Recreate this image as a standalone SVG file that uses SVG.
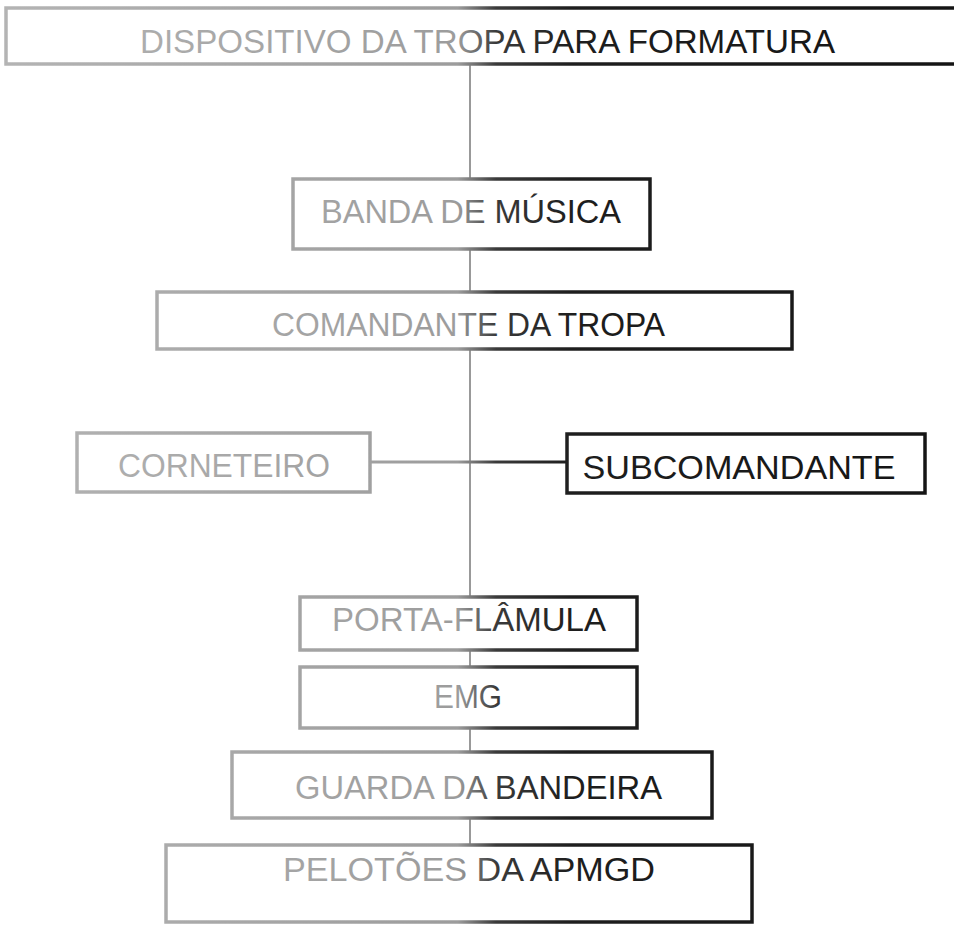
<svg xmlns="http://www.w3.org/2000/svg" width="954" height="925" viewBox="0 0 954 925">
<defs>
<linearGradient id="g" gradientUnits="userSpaceOnUse" x1="0" y1="0" x2="954" y2="0">
<stop offset="0" stop-color="#b4b4b4"/>
<stop offset="0.48" stop-color="#9c9c9c"/>
<stop offset="0.52" stop-color="#3a3a3a"/>
<stop offset="0.6" stop-color="#1e1e1e"/>
<stop offset="1" stop-color="#141414"/>
</linearGradient>
</defs>
<style>
.box{fill:#fff;stroke:url(#g);stroke-width:3.5}
.t{font-family:"Liberation Sans",Arial,sans-serif;font-size:34px;fill:url(#g);text-anchor:middle}
.c{stroke:#999;stroke-width:2;fill:none}
.h{stroke:url(#g);stroke-width:3;fill:none}
</style>
<g id="connectors">
<line class="c" x1="470" y1="64" x2="470" y2="178"/>
<line class="c" x1="470" y1="250" x2="470" y2="292"/>
<line class="c" x1="470" y1="349" x2="470" y2="597"/>
<line class="c" x1="470" y1="650" x2="470" y2="667"/>
<line class="c" x1="470" y1="728" x2="470" y2="752"/>
<line class="c" x1="470" y1="818" x2="470" y2="845"/>
<line class="h" x1="370" y1="462" x2="567" y2="462"/>
</g>
<g id="n-dispositivo">
<rect class="box" x="6" y="8" width="970" height="56"/>
<text class="t" x="487.5" y="53" textLength="695" lengthAdjust="spacingAndGlyphs">DISPOSITIVO DA TROPA PARA FORMATURA</text>
</g>
<g id="n-banda">
<rect class="box" x="293" y="179" width="357" height="70"/>
<text class="t" x="471" y="223" textLength="300" lengthAdjust="spacingAndGlyphs">BANDA DE MÚSICA</text>
</g>
<g id="n-comandante">
<rect class="box" x="157" y="292" width="635" height="57"/>
<text class="t" x="468.5" y="336" textLength="393" lengthAdjust="spacingAndGlyphs">COMANDANTE DA TROPA</text>
</g>
<g id="n-corneteiro">
<rect class="box" x="77" y="433" width="293" height="59"/>
<text class="t" x="224" y="477" textLength="212" lengthAdjust="spacingAndGlyphs">CORNETEIRO</text>
</g>
<g id="n-subcomandante">
<rect class="box" x="567" y="434" width="358" height="59"/>
<text class="t" x="739" y="479" textLength="313" lengthAdjust="spacingAndGlyphs">SUBCOMANDANTE</text>
</g>
<g id="n-porta">
<rect class="box" x="300" y="597" width="337" height="53"/>
<text class="t" x="469" y="631" textLength="274" lengthAdjust="spacingAndGlyphs">PORTA-FLÂMULA</text>
</g>
<g id="n-emg">
<rect class="box" x="300" y="667" width="337" height="61"/>
<text class="t" x="468" y="708" textLength="68" lengthAdjust="spacingAndGlyphs">EMG</text>
</g>
<g id="n-guarda">
<rect class="box" x="232" y="752" width="480" height="66"/>
<text class="t" x="478.5" y="799" textLength="367" lengthAdjust="spacingAndGlyphs">GUARDA DA BANDEIRA</text>
</g>
<g id="n-pelotoes">
<rect class="box" x="166" y="845" width="586" height="77"/>
<text class="t" x="469" y="881" textLength="372" lengthAdjust="spacingAndGlyphs">PELOTÕES DA APMGD</text>
</g>
</svg>
